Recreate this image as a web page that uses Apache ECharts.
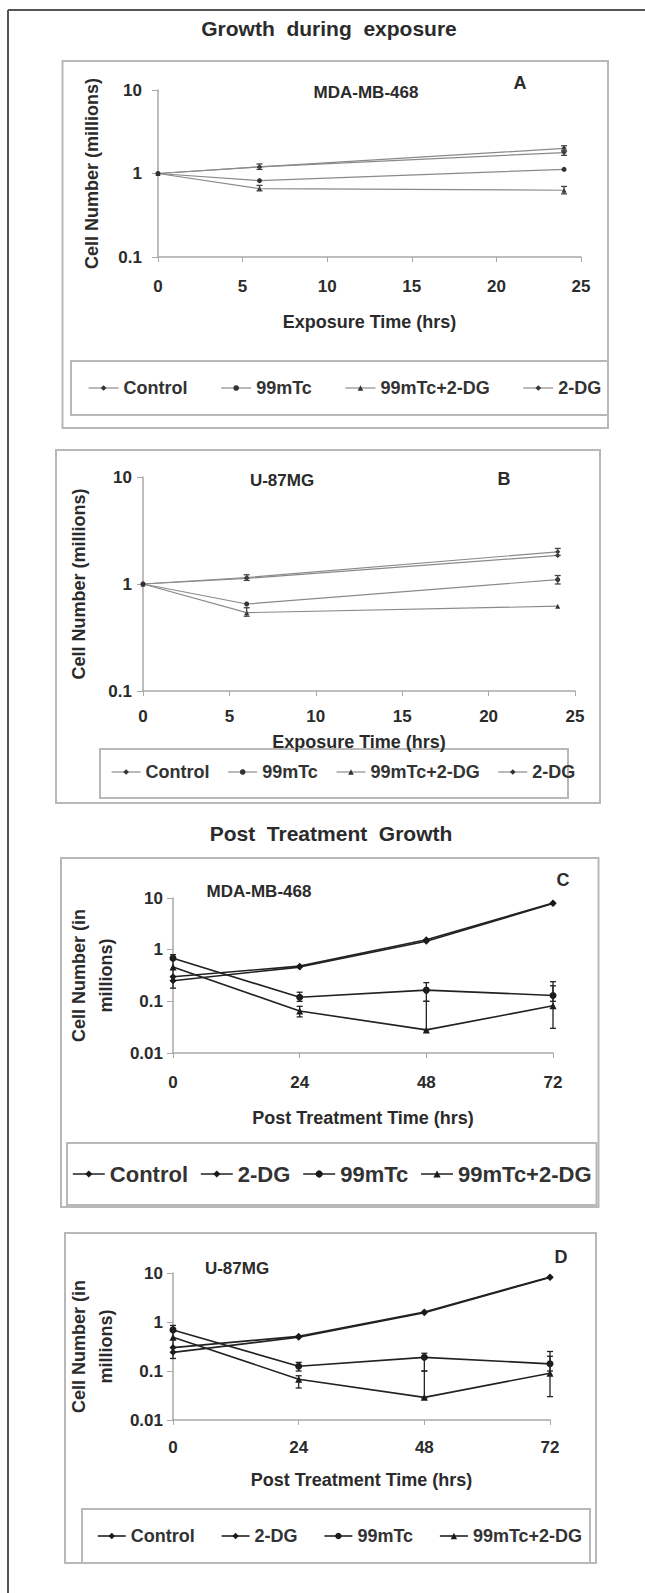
<!DOCTYPE html>
<html>
<head>
<meta charset="utf-8">
<title>Growth during exposure / Post Treatment Growth</title>
<script src="https://cdn.jsdelivr.net/npm/echarts@6/dist/echarts.min.js"></script>
<style>
  html, body { margin: 0; padding: 0; background: #fff; }
  #main { width: 645px; height: 1593px; }
</style>
</head>
<body>
<div id="main"></div>
<script>
// exposure panels (A, B): hours of exposure
var exposureTimes = [0, 6, 24];
var exposureTicks = [0, 5, 10, 15, 20, 25];
// post treatment panels (C, D)
var postTimes = [0, 24, 48, 72];
var postTicks = [0, 24, 48, 72];

// A - MDA-MB-468, growth during exposure (millions of cells)
var aControl = [1, 1.2, 2.0];
var aTc = [1, 0.82, 1.12];
var aTcDg = [1, 0.66, 0.63];
var aDg = [1, 1.2, 1.78];
var aErr = [[6, 1.12, 1.3], [6, 0.62, 0.72], [24, 1.85, 2.15], [24, 1.65, 1.9], [24, 0.57, 0.7]];

// B - U-87MG, growth during exposure
var bControl = [1, 1.15, 2.0];
var bTc = [1, 0.65, 1.1];
var bTcDg = [1, 0.54, 0.62];
var bDg = [1, 1.13, 1.85];
var bErr = [[6, 1.08, 1.22], [6, 0.5, 0.6], [24, 1.85, 2.15], [24, 1.0, 1.2]];

// C - MDA-MB-468, post treatment growth
var cControl = [0.3, 0.48, 1.55, 8.0];
var cDg = [0.25, 0.46, 1.45, 7.8];
var cTc = [0.68, 0.12, 0.165, 0.13];
var cTcDg = [0.46, 0.065, 0.028, 0.082];
var cErr = [[0, 0.18, 0.8], [24, 0.1, 0.15], [24, 0.05, 0.08], [48, 0.1, 0.23], [48, 0.028, 0.1], [72, 0.1, 0.24], [72, 0.03, 0.2]];

// D - U-87MG, post treatment growth
var dControl = [0.3, 0.51, 1.6, 8.3];
var dDg = [0.24, 0.49, 1.55, 8.1];
var dTc = [0.69, 0.125, 0.19, 0.14];
var dTcDg = [0.49, 0.068, 0.029, 0.09];
var dErr = [[0, 0.18, 0.85], [24, 0.1, 0.15], [24, 0.045, 0.08], [48, 0.1, 0.23], [48, 0.028, 0.1], [72, 0.1, 0.25], [72, 0.03, 0.2]];

var legendAB = ['Control', '99mTc', '99mTc+2-DG', '2-DG'];
var legendCD = ['Control', '2-DG', '99mTc', '99mTc+2-DG'];

var FONT = '"Liberation Sans", Arial, sans-serif';
var TXT = '#2b2b2b';
var AXIS = '#a8a8a8';
var BOX = '#b8b8b8';

var symbols = { 'Control': 'diamond', '2-DG': 'diamond', '99mTc': 'circle', '99mTc+2-DG': 'triangle' };

function pairs(times, values) {
	var out = [];
	for (var i = 0; i < times.length; i++) {
		out.push([times[i], values[i]]);
	}
	return out;
}

function lineSeries(name, idx, times, values, look) {
	return {
		name: name,
		type: 'line',
		xAxisIndex: idx,
		yAxisIndex: idx,
		data: pairs(times, values),
		symbol: symbols[name],
		symbolSize: look.size,
		lineStyle: { color: look.line, width: look.width },
		itemStyle: { color: look.mark },
		z: 3
	};
}

function errSeries(idx, rows, color) {
	return {
		name: 'err' + idx,
		type: 'custom',
		xAxisIndex: idx,
		yAxisIndex: idx,
		data: rows,
		encode: { x: 0, y: [1, 2] },
		z: 4,
		renderItem: function(params, api) {
			var lo = api.coord([api.value(0), api.value(1)]);
			var hi = api.coord([api.value(0), api.value(2)]);
			var st = { stroke: color, lineWidth: 1.3 };
			return {
				type: 'group',
				children: [
					{ type: 'line', shape: { x1: lo[0], y1: lo[1], x2: hi[0], y2: hi[1] }, style: st },
					{ type: 'line', shape: { x1: lo[0] - 3, y1: lo[1], x2: lo[0] + 3, y2: lo[1] }, style: st },
					{ type: 'line', shape: { x1: hi[0] - 3, y1: hi[1], x2: hi[0] + 3, y2: hi[1] }, style: st }
				]
			};
		}
	};
}

function xAxisOf(idx, max, interval, name, gap, margin) {
	return {
		type: 'value', gridIndex: idx, min: 0, max: max, interval: interval,
		name: name, nameLocation: 'middle', nameGap: gap,
		nameTextStyle: { fontFamily: FONT, fontSize: 18, fontWeight: 'bold', color: TXT },
		axisLine: { lineStyle: { color: AXIS, width: 1.5 } },
		axisTick: { show: true, length: 5, lineStyle: { color: AXIS } },
		axisLabel: { margin: margin, fontFamily: FONT, fontSize: 17, fontWeight: 'bold', color: TXT },
		splitLine: { show: false }
	};
}

function yAxisOf(idx, min, name, gap, margin, lh) {
	return {
		type: 'log', logBase: 10, gridIndex: idx, min: min, max: 10,
		name: name, nameLocation: 'middle', nameGap: gap, nameRotate: 90,
		nameTextStyle: { fontFamily: FONT, fontSize: 18, fontWeight: 'bold', color: TXT, lineHeight: lh },
		axisLine: { show: true, lineStyle: { color: AXIS, width: 1.5 } },
		axisTick: { show: true, length: 6, lineStyle: { color: AXIS } },
		axisLabel: {
			margin: margin, fontFamily: FONT, fontSize: 17, fontWeight: 'bold', color: TXT,
			formatter: function(v) { return String(+v.toPrecision(3)); }
		},
		minorTick: { show: false },
		splitLine: { show: false }
	};
}

function legendOf(names, left, top, iw, ih, gap, size, look) {
	return {
		data: names, left: left, top: top, orient: 'horizontal', padding: 0,
		itemWidth: iw, itemHeight: ih, itemGap: gap, selectedMode: false,
		textStyle: { fontFamily: FONT, fontSize: size, fontWeight: 'bold', color: '#333' },
		itemStyle: { color: look.mark },
		lineStyle: { color: look.line, width: look.width }
	};
}

function box(x, y, w, h) {
	return { type: 'rect', z: -1, shape: { x: x, y: y, width: w, height: h }, style: { fill: 'none', stroke: BOX, lineWidth: 2 } };
}

function label(text, x, y, size) {
	return { type: 'text', x: x, y: y, style: { text: text, fill: TXT, font: 'bold ' + size + 'px ' + FONT, align: 'center', verticalAlign: 'middle' } };
}

var lightLook = { line: '#8a8a8a', width: 1.2, mark: '#333', size: 5 };
var darkLook = { line: '#222', width: 1.6, mark: '#1a1a1a', size: 7 };

var option = {
	backgroundColor: '#fff',
	animation: false,
	grid: [
		{ left: 158, top: 90, width: 423, height: 167 },
		{ left: 143, top: 477, width: 432, height: 214 },
		{ left: 173, top: 898, width: 380, height: 155 },
		{ left: 173, top: 1273, width: 377, height: 147 }
	],
	xAxis: [
		xAxisOf(0, 25, 5, 'Exposure Time (hrs)', 56, 21),
		xAxisOf(1, 25, 5, 'Exposure Time (hrs)', 42, 17),
		xAxisOf(2, 72, 24, 'Post Treatment Time (hrs)', 56, 21),
		xAxisOf(3, 72, 24, 'Post Treatment Time (hrs)', 51, 19)
	],
	yAxis: [
		yAxisOf(0, 0.1, 'Cell Number (millions)', 56, 16, 20),
		yAxisOf(1, 0.1, 'Cell Number (millions)', 54, 11, 20),
		yAxisOf(2, 0.01, 'Cell Number (in\nmillions)', 50, 10, 27),
		yAxisOf(3, 0.01, 'Cell Number (in\nmillions)', 48, 10, 27)
	],
	legend: [
		legendOf(legendAB, 88, 379, 30, 7, 33, 18, lightLook),
		legendOf(legendAB, 111, 763, 29, 7, 18, 18, lightLook),
		legendOf(legendCD, 72, 1163, 32, 9, 12, 22, darkLook),
		legendOf(legendCD, 97, 1527, 28, 8, 26, 18, darkLook)
	],
	graphic: [
		// outer frame (top and left only)
		{ type: 'line', shape: { x1: 8, y1: 10, x2: 645, y2: 10 }, style: { stroke: '#555', lineWidth: 2 } },
		{ type: 'line', shape: { x1: 8, y1: 10, x2: 8, y2: 1593 }, style: { stroke: '#555', lineWidth: 2 } },
		label('Growth  during  exposure', 329, 28, 21),
		label('Post  Treatment  Growth', 331, 833, 21),
		box(62.5, 61, 545.5, 367),
		box(71, 361, 537, 54),
		box(56, 450, 544, 353),
		box(100, 749, 468, 49),
		box(61, 858, 537.5, 349),
		box(67, 1143, 529.5, 62),
		box(65, 1233, 531, 330),
		box(82, 1509, 508, 54),
		label('MDA-MB-468', 366, 92, 17),
		label('A', 520, 83, 18),
		label('U-87MG', 282, 480, 17),
		label('B', 504, 479, 18),
		label('MDA-MB-468', 259, 891, 17),
		label('C', 563, 880, 18),
		label('U-87MG', 237, 1268, 17),
		label('D', 561, 1257, 18)
	],
	series: [
		lineSeries('Control', 0, exposureTimes, aControl, lightLook),
		lineSeries('99mTc', 0, exposureTimes, aTc, lightLook),
		lineSeries('99mTc+2-DG', 0, exposureTimes, aTcDg, lightLook),
		lineSeries('2-DG', 0, exposureTimes, aDg, lightLook),
		errSeries(0, aErr, '#444'),

		lineSeries('Control', 1, exposureTimes, bControl, lightLook),
		lineSeries('99mTc', 1, exposureTimes, bTc, lightLook),
		lineSeries('99mTc+2-DG', 1, exposureTimes, bTcDg, lightLook),
		lineSeries('2-DG', 1, exposureTimes, bDg, lightLook),
		errSeries(1, bErr, '#444'),

		lineSeries('Control', 2, postTimes, cControl, darkLook),
		lineSeries('2-DG', 2, postTimes, cDg, darkLook),
		lineSeries('99mTc', 2, postTimes, cTc, darkLook),
		lineSeries('99mTc+2-DG', 2, postTimes, cTcDg, darkLook),
		errSeries(2, cErr, '#222'),

		lineSeries('Control', 3, postTimes, dControl, darkLook),
		lineSeries('2-DG', 3, postTimes, dDg, darkLook),
		lineSeries('99mTc', 3, postTimes, dTc, darkLook),
		lineSeries('99mTc+2-DG', 3, postTimes, dTcDg, darkLook),
		errSeries(3, dErr, '#222')
	]
};

var myChart = echarts.init(document.getElementById('main'), null, { renderer: 'svg' });
myChart.setOption(option);
</script>
</body>
</html>
